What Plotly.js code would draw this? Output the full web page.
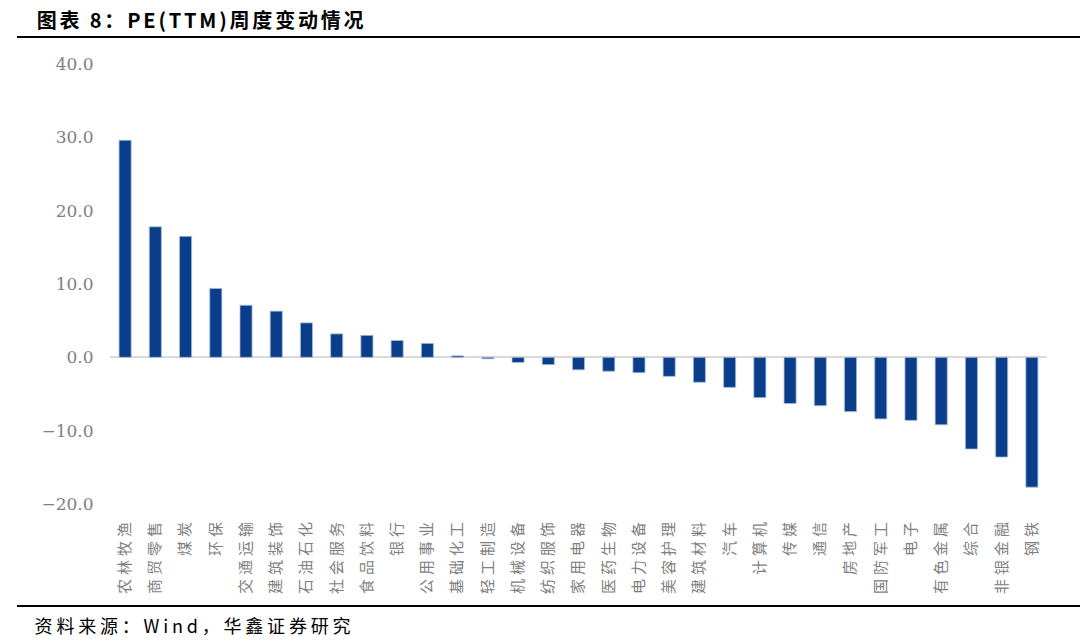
<!DOCTYPE html>
<html>
<head>
<meta charset="utf-8">
<script src="https://cdn.plot.ly/plotly-3.0.1.min.js"></script>
<style>
  html, body { margin: 0; padding: 0; background: #ffffff; }
  #chart { width: 1080px; height: 641px; }
  .xtick text { letter-spacing: 4px; }
  g.annotation[data-index="0"] text { letter-spacing: 2.8px; }
  g.annotation[data-index="1"] text { letter-spacing: 3.8px; }
</style>
</head>
<body>
<div id="chart"></div>
<script>
const categories = ["农林牧渔","商贸零售","煤炭","环保","交通运输","建筑装饰","石油石化","社会服务","食品饮料","银行","公用事业","基础化工","轻工制造","机械设备","纺织服饰","家用电器","医药生物","电力设备","美容护理","建筑材料","汽车","计算机","传媒","通信","房地产","国防军工","电子","有色金属","综合","非银金融","钢铁"];
const peChange = [29.6, 17.8, 16.5, 9.4, 7.1, 6.3, 4.7, 3.2, 3.0, 2.3, 1.9, 0.2, -0.2, -0.7, -1.0, -1.7, -1.9, -2.1, -2.6, -3.4, -4.1, -5.5, -6.3, -6.6, -7.4, -8.4, -8.6, -9.2, -12.5, -13.6, -17.7];
const yTickValues = [-20, -10, 0, 10, 20, 30, 40];
const titleText = "图表 8：PE(TTM)周度变动情况";
const sourceText = "资料来源：Wind，华鑫证券研究";

const trace = {
  type: "bar",
  x: categories,
  y: peChange,
  marker: { color: "#0a3e8a", line: { color: "#a9bcdc", width: 0.8 } },
  hoverinfo: "x+y"
};

const layout = {
  width: 1080,
  height: 641,
  margin: { l: 110, r: 33, t: 64, b: 137 },
  paper_bgcolor: "#ffffff",
  plot_bgcolor: "#ffffff",
  showlegend: false,
  bargap: 0.6,
  xaxis: {
    type: "category",
    tickangle: -90,
    showgrid: false,
    showline: false,
    zeroline: false,
    ticks: "outside",
    ticklen: 7,
    tickcolor: "rgba(0,0,0,0)",
    tickfont: { family: "Noto Sans CJK SC", size: 15, color: "#7f7f7f" }
  },
  yaxis: {
    range: [-20, 40],
    tickvals: yTickValues,
    tickformat: ".1f",
    showgrid: false,
    showline: false,
    zeroline: true,
    zerolinecolor: "#d9d9d9",
    zerolinewidth: 2,
    ticks: "outside",
    ticklen: 12,
    tickcolor: "rgba(0,0,0,0)",
    tickfont: { family: "DejaVu Serif", size: 17, color: "#808080" }
  },
  annotations: [
    {
      text: "<b>" + titleText + "</b>",
      xref: "paper", yref: "paper",
      x: (60 - 110) / 937, y: (504 - 20) / 440,
      xanchor: "left", yanchor: "middle",
      showarrow: false,
      font: { family: "Noto Sans CJK SC", size: 20, color: "#000000" }
    },
    {
      text: sourceText,
      xref: "paper", yref: "paper",
      x: (63 - 110) / 937, y: (504 - 625) / 440,
      xanchor: "left", yanchor: "middle",
      showarrow: false,
      font: { family: "Noto Sans CJK SC", size: 18, color: "#000000" }
    }
  ],
  shapes: [
    {
      type: "line", xref: "paper", yref: "paper",
      x0: (17 - 110) / 937, x1: (1080 - 110) / 937,
      y0: (504 - 37) / 440, y1: (504 - 37) / 440,
      line: { color: "#000000", width: 2 }
    },
    {
      type: "line", xref: "paper", yref: "paper",
      x0: (17 - 110) / 937, x1: (1080 - 110) / 937,
      y0: (504 - 606) / 440, y1: (504 - 606) / 440,
      line: { color: "#000000", width: 2 }
    }
  ]
};

Plotly.newPlot("chart", [trace], layout, { displayModeBar: false, staticPlot: true });
</script>
</body>
</html>
